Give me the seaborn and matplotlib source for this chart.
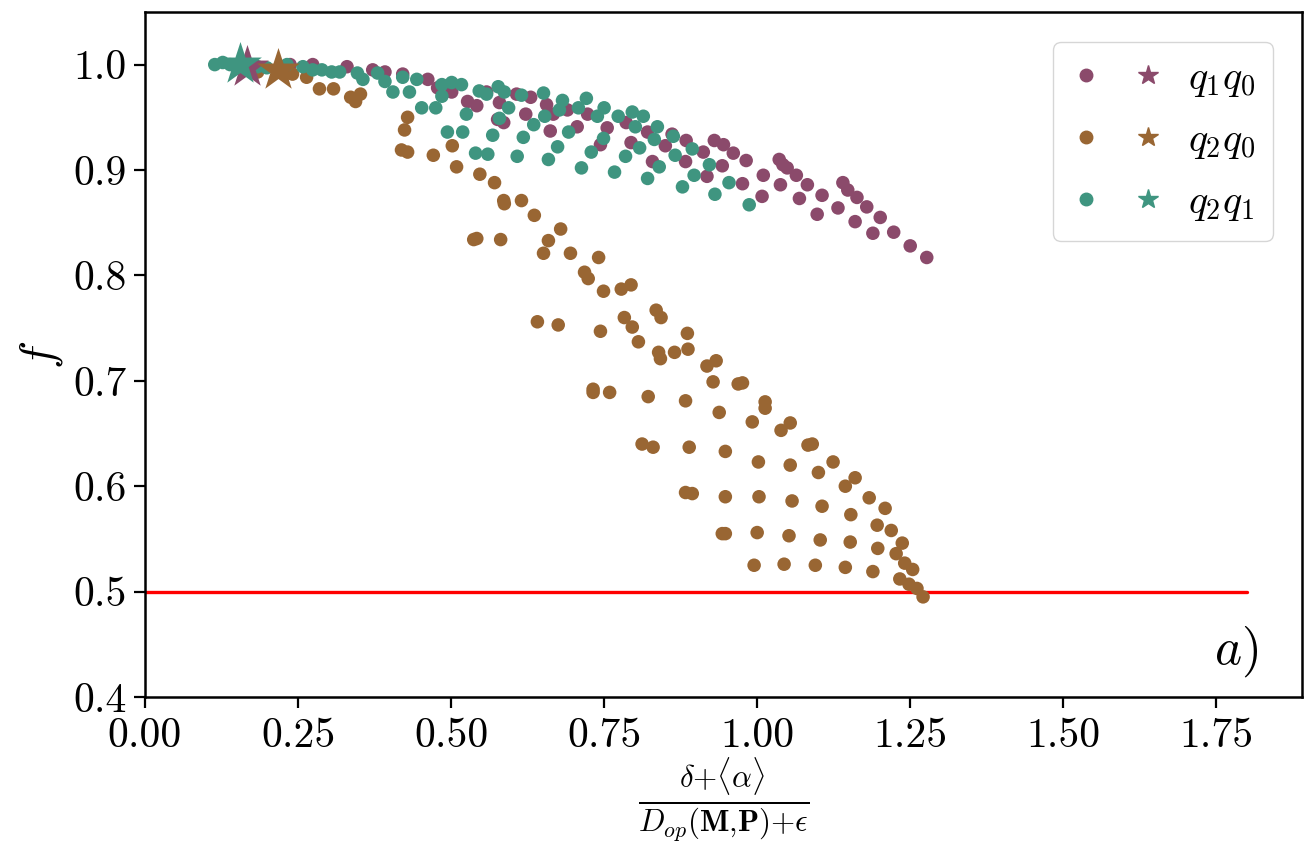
import numpy as np
import pandas as pd
import matplotlib
matplotlib.use("Agg")
import matplotlib.pyplot as plt
import seaborn as sns
from matplotlib.lines import Line2D
from matplotlib.legend_handler import HandlerTuple

# q1q0 points
q1q0_x = [0.237, 0.274, 0.330, 0.372, 0.392, 0.421, 0.462, 0.478, 0.501, 0.527,
          0.542, 0.558, 0.576, 0.586, 0.607, 0.579, 0.622, 0.630, 0.662, 0.656,
          0.667, 0.690, 0.706, 0.723, 0.755, 0.744, 0.794, 0.786, 0.821, 0.829,
          0.850, 0.861, 0.884, 0.883, 0.912, 0.918, 0.930, 0.945, 0.943, 0.961,
          0.976, 0.982, 1.008, 1.010, 1.036, 1.042, 1.049, 1.038, 1.064, 1.069,
          1.082, 1.098, 1.106, 1.132, 1.140, 1.148, 1.163, 1.160, 1.179, 1.189,
          1.201, 1.223, 1.250, 1.277]
q1q0_f = [1.000, 1.000, 0.998, 0.995, 0.993, 0.991, 0.986, 0.978, 0.974, 0.965,
          0.961, 0.974, 0.948, 0.945, 0.972, 0.964, 0.953, 0.969, 0.937, 0.962,
          0.953, 0.957, 0.941, 0.953, 0.940, 0.924, 0.926, 0.945, 0.936, 0.908,
          0.923, 0.934, 0.928, 0.908, 0.917, 0.894, 0.928, 0.924, 0.904, 0.916,
          0.887, 0.909, 0.875, 0.895, 0.910, 0.905, 0.902, 0.886, 0.895, 0.873,
          0.886, 0.858, 0.876, 0.864, 0.888, 0.881, 0.874, 0.851, 0.865, 0.840,
          0.855, 0.841, 0.828, 0.817]

# q2q0 points
q2q0_x = [0.184, 0.233, 0.241, 0.264, 0.285, 0.308, 0.336, 0.344, 0.352, 0.429,
          0.424, 0.419, 0.429, 0.471, 0.502, 0.509, 0.547, 0.571, 0.586, 0.587,
          0.615, 0.636, 0.679, 0.537, 0.542, 0.581, 0.659, 0.651, 0.695, 0.741,
          0.718, 0.724, 0.749, 0.778, 0.794, 0.835, 0.843, 0.641, 0.675, 0.744,
          0.783, 0.796, 0.806, 0.886, 0.887, 0.839, 0.842, 0.865, 0.918, 0.933,
          0.928, 0.969, 0.976, 0.732, 0.732, 0.759, 0.822, 0.883, 0.938, 1.013,
          1.013, 0.992, 1.054, 1.039, 0.812, 0.830, 0.889, 0.948, 1.083, 1.090,
          1.002, 1.054, 1.100, 1.124, 1.144, 1.160, 0.883, 0.894, 0.948, 1.003,
          1.057, 1.106, 1.153, 1.183, 1.209, 1.196, 1.219, 1.237, 1.227, 1.197,
          1.152, 1.103, 1.052, 1.000, 0.943, 0.948, 1.241, 1.254, 1.189, 1.144,
          1.095, 1.044, 0.995, 1.233, 1.248, 1.261, 1.271]
q2q0_f = [0.993, 0.992, 0.991, 0.988, 0.977, 0.977, 0.969, 0.965, 0.972, 0.950,
          0.938, 0.919, 0.917, 0.914, 0.923, 0.903, 0.896, 0.888, 0.871, 0.868,
          0.871, 0.857, 0.844, 0.834, 0.835, 0.834, 0.833, 0.821, 0.821, 0.817,
          0.803, 0.797, 0.785, 0.787, 0.791, 0.767, 0.760, 0.756, 0.753, 0.747,
          0.760, 0.751, 0.737, 0.745, 0.730, 0.727, 0.721, 0.727, 0.714, 0.719,
          0.699, 0.697, 0.698, 0.692, 0.689, 0.689, 0.685, 0.681, 0.670, 0.680,
          0.674, 0.661, 0.660, 0.653, 0.640, 0.637, 0.637, 0.633, 0.639, 0.640,
          0.623, 0.620, 0.613, 0.623, 0.600, 0.608, 0.594, 0.593, 0.590, 0.590,
          0.586, 0.581, 0.573, 0.589, 0.579, 0.563, 0.558, 0.546, 0.536, 0.541,
          0.547, 0.549, 0.553, 0.556, 0.555, 0.555, 0.527, 0.521, 0.519, 0.523,
          0.525, 0.526, 0.525, 0.512, 0.507, 0.503, 0.495]

# q2q1 points
q2q1_x = [0.114, 0.127, 0.139, 0.184, 0.199, 0.232, 0.258, 0.274, 0.289, 0.305,
          0.318, 0.347, 0.356, 0.380, 0.392, 0.405, 0.421, 0.432, 0.444, 0.452,
          0.475, 0.485, 0.485, 0.501, 0.517, 0.494, 0.519, 0.525, 0.540, 0.560,
          0.546, 0.558, 0.568, 0.577, 0.587, 0.579, 0.594, 0.608, 0.618, 0.615,
          0.635, 0.651, 0.653, 0.659, 0.674, 0.677, 0.682, 0.692, 0.708, 0.713,
          0.721, 0.729, 0.739, 0.750, 0.749, 0.767, 0.773, 0.785, 0.796, 0.801,
          0.808, 0.814, 0.821, 0.832, 0.837, 0.840, 0.863, 0.866, 0.878, 0.894,
          0.897, 0.922, 0.931, 0.954, 0.987]
q2q1_f = [1.000, 1.002, 1.000, 0.998, 0.997, 1.000, 0.998, 0.995, 0.995, 0.993,
          0.993, 0.992, 0.986, 0.992, 0.984, 0.974, 0.988, 0.974, 0.986, 0.959,
          0.959, 0.981, 0.970, 0.983, 0.981, 0.936, 0.936, 0.953, 0.916, 0.915,
          0.975, 0.972, 0.933, 0.979, 0.974, 0.949, 0.959, 0.913, 0.931, 0.971,
          0.943, 0.973, 0.951, 0.910, 0.922, 0.957, 0.966, 0.936, 0.959, 0.902,
          0.968, 0.917, 0.951, 0.959, 0.930, 0.898, 0.951, 0.913, 0.955, 0.941,
          0.921, 0.951, 0.892, 0.929, 0.941, 0.903, 0.932, 0.914, 0.884, 0.920,
          0.895, 0.905, 0.877, 0.888, 0.867]

# highlighted points (stars)
star_labels = ["q1q0", "q2q0", "q2q1"]
star_x = [0.166, 0.217, 0.155]
star_f = [0.998, 0.995, 1.001]

series_names = ["q1q0", "q2q0", "q2q1"]
legend_labels = [r"$q_1q_0$", r"$q_2q_0$", r"$q_2q_1$"]
colors = ["#8b4a6b", "#996633", "#3f9580"]

threshold_x = [0.0, 1.8]
threshold_f = [0.5, 0.5]

sns.set_style("ticks")
plt.rcParams["font.family"] = ["serif"]
plt.rcParams["font.serif"] = ["cmr10", "DejaVu Serif"]
plt.rcParams["mathtext.fontset"] = "cm"
plt.rcParams["axes.formatter.use_mathtext"] = True
plt.rcParams["text.color"] = "black"
plt.rcParams["xtick.color"] = "black"
plt.rcParams["ytick.color"] = "black"
plt.rcParams["axes.labelcolor"] = "black"
plt.rcParams["axes.edgecolor"] = "black"

df = pd.concat([
    pd.DataFrame({"x": q1q0_x, "f": q1q0_f, "pair": "q1q0"}),
    pd.DataFrame({"x": q2q0_x, "f": q2q0_f, "pair": "q2q0"}),
    pd.DataFrame({"x": q2q1_x, "f": q2q1_f, "pair": "q2q1"}),
])
pal = dict(zip(series_names, colors))

fig, ax = plt.subplots(figsize=(13.12, 8.5), dpi=100)
fig.subplots_adjust(left=0.1105, right=0.9924, top=0.986, bottom=0.18)

sns.scatterplot(data=df, x="x", y="f", hue="pair", palette=pal, s=95,
                linewidth=0, legend=False, ax=ax, zorder=2)
# stars drawn on top, one per pair
for name, sx, sf in zip(star_labels, star_x, star_f):
    ax.scatter([sx], [sf], s=1050, marker="*", color=pal[name], linewidths=0, zorder=3)
sns.lineplot(x=threshold_x, y=threshold_f, color="red", linewidth=2.4, ax=ax, zorder=1)

ax.set_xlim(0, 1.89)
ax.set_ylim(0.4, 1.05)
ax.set_xticks(np.arange(0, 1.76, 0.25))
ax.set_xticklabels([f"{t:.2f}" for t in np.arange(0, 1.76, 0.25)])
ax.set_yticks(np.arange(0.4, 1.01, 0.1))
ax.set_yticklabels([f"{t:.1f}" for t in np.arange(0.4, 1.01, 0.1)])
ax.tick_params(labelsize=30, length=8, width=1.6)
ax.tick_params(axis="x", pad=7)
ax.tick_params(axis="y", pad=5)
for sp in ax.spines.values():
    sp.set_linewidth(1.8)

ax.set_ylabel(r"$f$", fontsize=34, labelpad=6)
ax.set_xlabel(r"$\frac{\delta{+}\langle\alpha\rangle}{D_{op}(\mathbf{M}{,}\mathbf{P}){+}\epsilon}$",
              fontsize=32, labelpad=0)
ax.text(0.962, 0.026, r"$a)$", transform=ax.transAxes, ha="right", va="bottom", fontsize=37)

handles = []
for c in colors:
    dot = Line2D([], [], marker="o", color=c, linestyle="", markersize=9)
    star = Line2D([], [], marker="*", color=c, linestyle="", markersize=15)
    handles.append((dot, star))
ax.legend(handles, legend_labels, handler_map={tuple: HandlerTuple(ndivide=None, pad=0.8)},
          loc="upper right", fontsize=29, handlelength=2.3, labelspacing=0.6,
          borderpad=0.45, handletextpad=0.6, frameon=True, fancybox=True,
          edgecolor="#cccccc", bbox_to_anchor=(0.9925, 0.985))

fig.savefig("out.png", dpi=100)
